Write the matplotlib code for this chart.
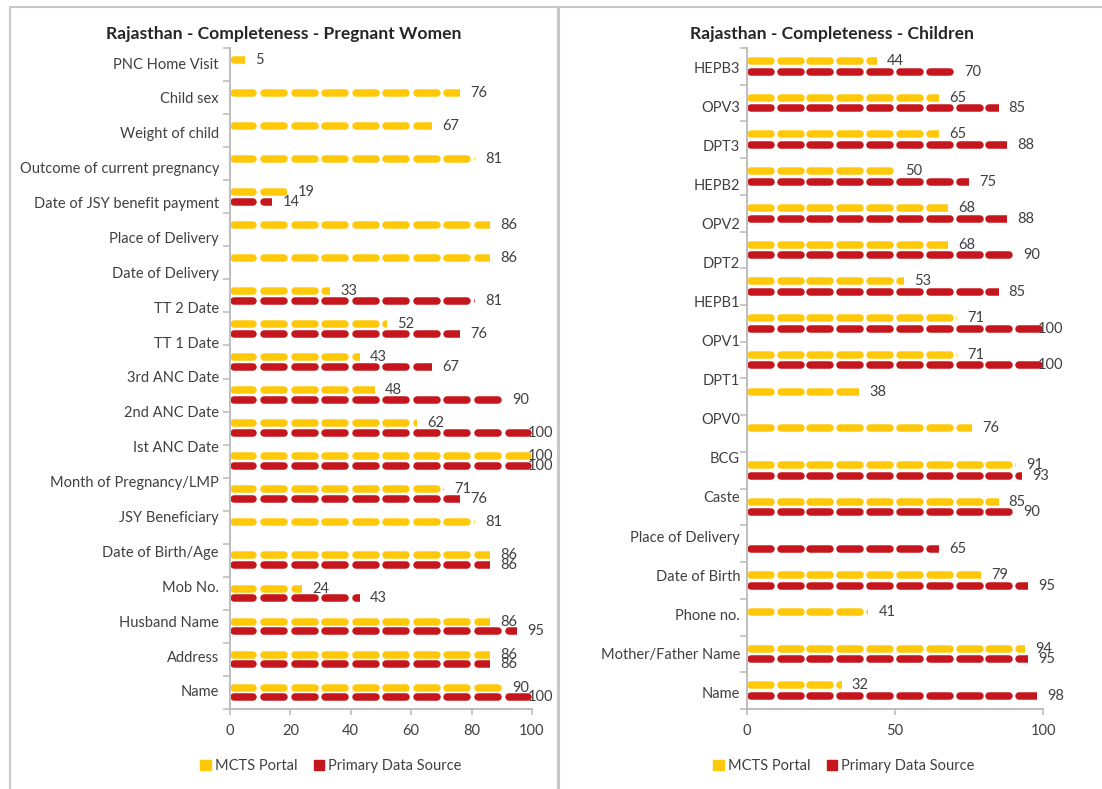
import numpy as np
import matplotlib
matplotlib.use("Agg")
import matplotlib.pyplot as plt
from matplotlib.collections import LineCollection
from matplotlib.patches import Rectangle, Patch

W, H, DPI = 1102, 789, 100

YELLOW = "#FFC90A"
RED = "#C4161C"
TEXT = "#404040"
AXIS = "#BFBFBF"
BORDER = "#C8C8C8"

# Pregnant women: 19 field names, 20 bar rows (None = no bar)
pw_labels = ["PNC Home Visit", "Child sex", "Weight of child",
             "Outcome of current pregnancy", "Date of JSY benefit payment",
             "Place of Delivery", "Date of Delivery", "TT 2 Date", "TT 1 Date",
             "3rd ANC Date", "2nd ANC Date", "Ist ANC Date",
             "Month of Pregnancy/LMP", "JSY Beneficiary", "Date of Birth/Age",
             "Mob No.", "Husband Name", "Address", "Name"]
pw_mcts = [5, 76, 67, 81, 19, 86, 86, 33, 52, 43, 48, 62, 100, 71, 81, 86, 24, 86, 86, 90]
pw_primary = [None, None, None, None, 14, None, None, 81, 76, 67, 90, 100, 100, 76,
              None, 86, 43, 95, 86, 100]

# Children: 17 field names, 18 bar rows
ch_labels = ["HEPB3", "OPV3", "DPT3", "HEPB2", "OPV2", "DPT2", "HEPB1", "OPV1",
             "DPT1", "OPV0", "BCG", "Caste", "Place of Delivery", "Date of Birth",
             "Phone no.", "Mother/Father Name", "Name"]
ch_mcts = [44, 65, 65, 50, 68, 68, 53, 71, 71, 38, 76, 91, 85, None, 79, 41, 94, 32]
ch_primary = [70, 85, 88, 75, 88, 90, 85, 100, 100, None, None, 93, 90, 65, 95, None, 95, 98]

series_names = ["MCTS Portal", "Primary Data Source"]

plt.rcParams["font.family"] = ["Lato", "DejaVu Sans"]

fig = plt.figure(figsize=(W / DPI, H / DPI), dpi=DPI)


def dashed_bar(ax, y, value, color, dash, lw_px=7.5):
    # rounded dashes laid out every ~10 units, cut flat at the bar's value
    ppu = ax.transData.transform((1, 0))[0] - ax.transData.transform((0, 0))[0]
    r = lw_px / 2 / ppu
    gap = (100 - 10 * dash) / 9
    segs = []
    for k in range(10):
        x0 = k * (dash + gap)
        if x0 >= value:
            break
        segs.append([(x0 + r, y), (x0 + dash - r, y)])
    lc = LineCollection(segs, colors=color, linewidths=lw_px * 72 / DPI,
                        capstyle="round")
    ax.add_collection(lc)
    lc.set_clip_path(Rectangle((0, y - 0.4), value, 0.8, transform=ax.transData))


def panel(rect, title, title_x, labels, mcts, primary, xticks, dash, label_pad,
          label_shift, legend_x):
    ax = fig.add_axes(rect)
    n = len(mcts)
    ax.set_xlim(0, 100)
    ax.set_ylim(n - 0.5, -0.5)

    off = 0.145
    for i, (a, b) in enumerate(zip(mcts, primary)):
        for v, c, dy in ((a, YELLOW, -off), (b, RED, off)):
            if v is None:
                continue
            dashed_bar(ax, i + dy, v, c, dash)
            if v >= 100:
                ax.text(107, i + dy, str(v), ha="right", va="center",
                        fontsize=10.5, color=TEXT)
            else:
                ax.text(v + 3.4, i + dy, str(v), ha="left", va="center",
                        fontsize=10.5, color=TEXT)

    # tick marks sit on the row boundaries, names are spread over the rows
    ax.set_yticks(np.arange(n + 1) - 0.5)
    ax.set_yticklabels([])
    ax.tick_params(axis="y", length=5, width=1.2, color=AXIS)
    for yy, lab in zip(np.linspace(0, n - 1, len(labels)) + label_shift, labels):
        ax.annotate(lab, xy=(0, yy), xycoords=("axes fraction", "data"),
                    xytext=(-label_pad, 0), textcoords="offset points",
                    ha="right", va="center", fontsize=10.5, color=TEXT)

    ax.set_xticks(xticks)
    ax.tick_params(axis="x", length=4, width=1.2, color=AXIS, labelcolor=TEXT,
                   labelsize=10.5, pad=7)
    for s in ("top", "right"):
        ax.spines[s].set_visible(False)
    for s in ("left", "bottom"):
        ax.spines[s].set_color(AXIS)
        ax.spines[s].set_linewidth(1.5)

    fig.text(title_x / W, 1 - 34 / H, title, ha="center", va="center",
             fontsize=12.6, fontweight="bold", color="#262626")

    handles = [Patch(color=YELLOW, label=series_names[0]),
               Patch(color=RED, label=series_names[1])]
    ax.legend(handles=handles, loc="center", bbox_to_anchor=(legend_x / W, 1 - 766 / H),
              bbox_transform=fig.transFigure, ncol=2, frameon=False,
              handlelength=0.7, handleheight=0.7, handletextpad=0.3,
              columnspacing=1.1, fontsize=10.5, labelcolor=TEXT)
    return ax


panel([230 / W, 1 - 709 / H, 302 / W, 661 / H],
      "Rajasthan - Completeness - Pregnant Women", 284,
      pw_labels, pw_mcts, pw_primary, [0, 20, 40, 60, 80, 100], 9.0, 8, 0.0, 331)
panel([747 / W, 1 - 709 / H, 296 / W, 661 / H],
      "Rajasthan - Completeness - Children", 832,
      ch_labels, ch_mcts, ch_primary, [0, 50, 100], 9.3, 5, 0.08, 844)

# chart-area borders of the two panels
fig.add_artist(Rectangle((10 / W, -0.02), 548 / W, 1 - 7 / H + 0.02,
                         transform=fig.transFigure, fill=False, edgecolor=BORDER, lw=1.5))
fig.add_artist(Rectangle((559 / W, -0.02), 560 / W, 1 - 7 / H + 0.02,
                         transform=fig.transFigure, fill=False, edgecolor=BORDER, lw=1.5))

fig.savefig("out.png", dpi=DPI)
